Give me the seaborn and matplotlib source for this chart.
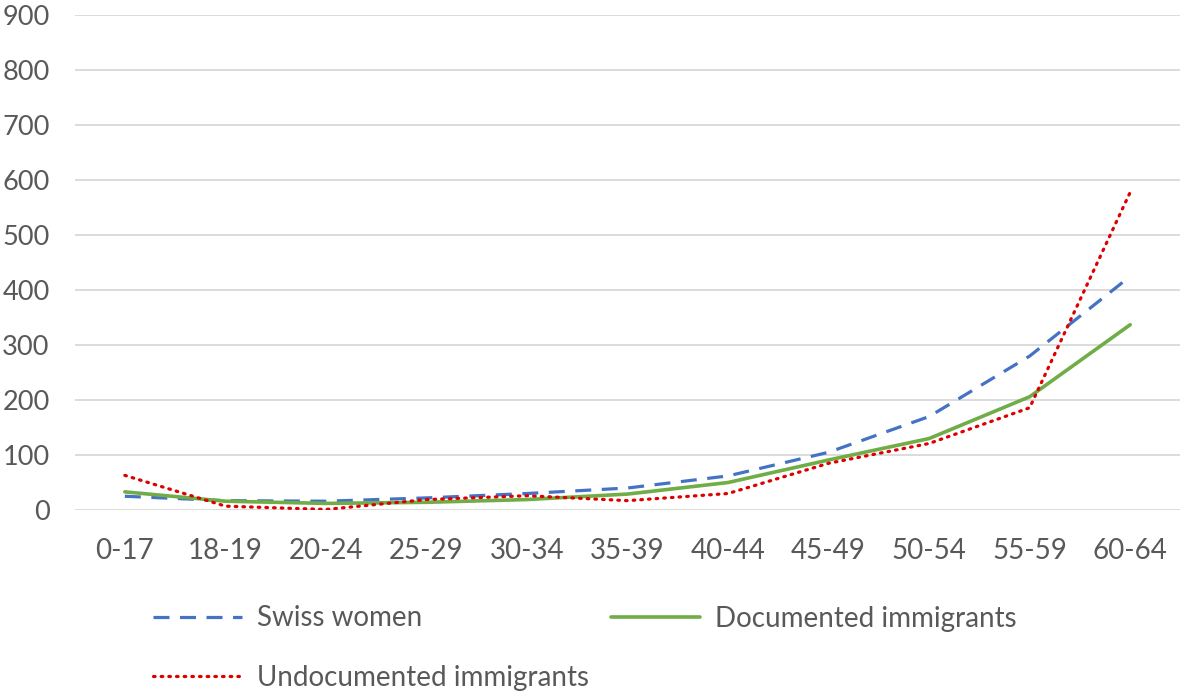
import matplotlib
matplotlib.use("Agg")
import matplotlib.pyplot as plt
import pandas as pd
import seaborn as sns

age_groups = ["0-17", "18-19", "20-24", "25-29", "30-34", "35-39",
              "40-44", "45-49", "50-54", "55-59", "60-64"]
swiss_women = [25, 17, 16, 22, 30, 40, 62, 105, 170, 280, 425]
documented = [33, 16, 12, 14, 19, 29, 50, 91, 130, 206, 337]
undocumented = [63, 7, 1, 19, 26, 17, 30, 85, 121, 186, 578]
y_ticks = [0, 100, 200, 300, 400, 500, 600, 700, 800, 900]

TEXT = "#595959"

sns.set_theme(style="white")
plt.rcParams["font.family"] = ["Lato", "DejaVu Sans"]

df = pd.DataFrame({
    "age": age_groups * 3,
    "value": swiss_women + documented + undocumented,
    "group": (["Swiss women"] * len(age_groups)
              + ["Documented immigrants"] * len(age_groups)
              + ["Undocumented immigrants"] * len(age_groups)),
})

fig = plt.figure(figsize=(11.84, 6.92), dpi=100)
ax = fig.add_axes([0.063, 0.263, 0.934, 0.715])

styles = {
    "Swiss women": dict(color="#4472C4", lw=2.3, dashes=(5.0, 3.3)),
    "Documented immigrants": dict(color="#70AD47", lw=2.6, dashes=""),
    "Undocumented immigrants": dict(color="#DD0000", lw=2.3, dashes=(0.5, 1.9)),
}

handles = {}
for name, st in styles.items():
    sub = df[df["group"] == name]
    sns.lineplot(data=sub, x="age", y="value", ax=ax, color=st["color"],
                 linewidth=st["lw"], sort=False, label=name)
    line = ax.lines[-1]
    if st["dashes"]:
        line.set_dashes(st["dashes"])
    if name == "Undocumented immigrants":
        line.set_dash_capstyle("round")
    handles[name] = line

ax.set_xlim(-0.5, len(age_groups) - 0.5)
ax.set_ylim(0, 900)
ax.set_yticks(y_ticks)
ax.grid(axis="y", color="#d9d9d9", linewidth=1.3)
ax.set_axisbelow(True)
for s in ax.spines.values():
    s.set_visible(False)
ax.set_xlabel("")
ax.set_ylabel("")
ax.tick_params(axis="both", length=0, labelsize=20, colors=TEXT)
ax.tick_params(axis="x", pad=20)
ax.tick_params(axis="y", pad=18, labelsize=19.5)
ax.get_legend().remove()

order = ["Swiss women", "Undocumented immigrants", "Documented immigrants"]
fig.legend([handles[k] for k in order], order, ncol=2, frameon=False,
           loc="upper left", bbox_to_anchor=(0.129, 0.125),
           fontsize=20, labelcolor=TEXT, handlelength=3.2,
           handletextpad=0.55, columnspacing=0.8, labelspacing=1.2,
           borderpad=0, borderaxespad=0)

fig.savefig("out.png", dpi=100)
